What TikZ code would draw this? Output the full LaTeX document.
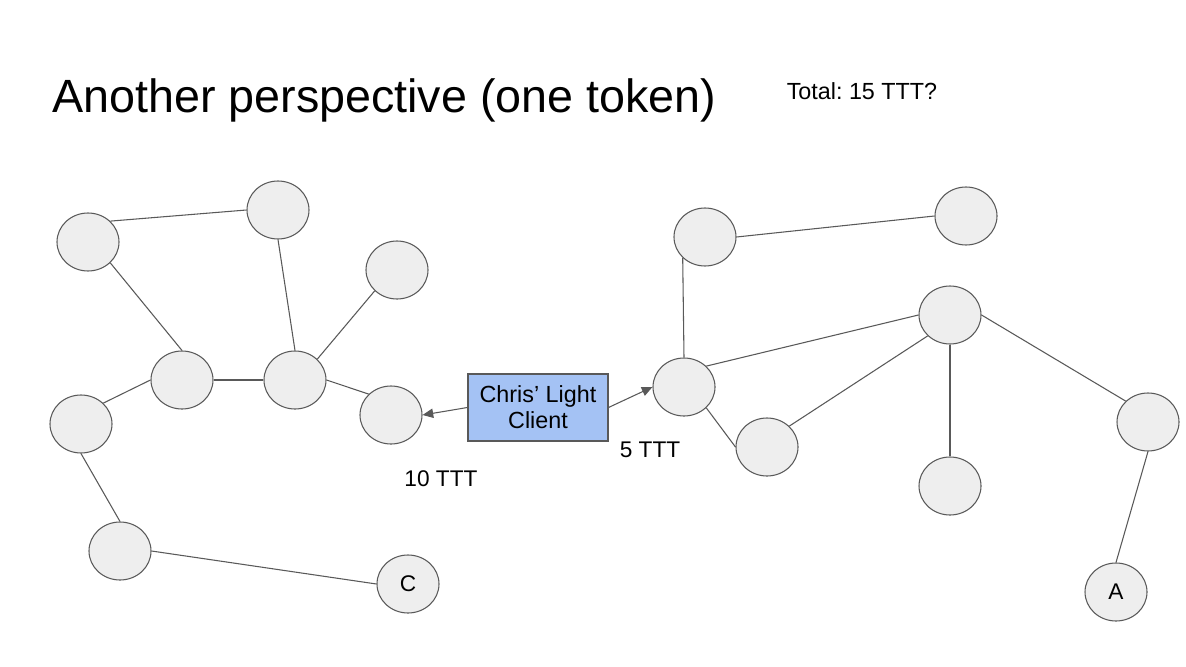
\documentclass[tikz,border=0pt]{standalone}
\usepackage{fontspec}
\setmainfont{Liberation Sans}
\usepackage{xcolor}
\usepackage{tikz}
\usetikzlibrary{shapes,arrows.meta}
\definecolor{edgegray}{HTML}{595959}
\definecolor{peerfill}{HTML}{EEEEEE}
\definecolor{clientblue}{HTML}{A4C2F4}
\frenchspacing

\begin{document}
\begin{tikzpicture}[x=0.75pt,y=-0.75pt,
  peer/.style={ellipse,draw=edgegray,fill=peerfill,line width=0.8pt,minimum width=46.5pt,minimum height=43.5pt,inner sep=0pt,font=\fontsize{17}{20}\selectfont},
  link/.style={draw=edgegray,line width=0.8pt},
  pay/.style={link,-{Triangle[length=8pt,width=7pt]}},
  client/.style={rectangle,draw=edgegray,fill=clientblue,line width=0.8pt,minimum width=105pt,minimum height=50.25pt,inner sep=0pt,align=center,font=\fontsize{17.5}{19.5}\selectfont},
  amount/.style={inner sep=0pt,font=\fontsize{17}{20}\selectfont}]
\useasboundingbox (0,0) rectangle (1186,667);
\node[anchor=base west,inner sep=0pt,font=\fontsize{35}{40}\selectfont] (title) at (52,113) {Another perspective (one token)};
\node[inner sep=0pt,font=\fontsize{17.5}{20}\selectfont] (total) at (862,91) {Total: 15 TTT?};
% left group
\node[peer] (l1) at (88,242) {};
\node[peer] (l2) at (278,210) {};
\node[peer] (l3) at (397,270) {};
\node[peer] (l4) at (182,380) {};
\node[peer] (l5) at (295,380) {};
\node[peer] (l6) at (391,415) {};
\node[peer] (l7) at (81,424) {};
\node[peer] (l8) at (120,551) {};
\node[peer] (c) at (408,584) {C};
% right group
\node[peer] (r1) at (705,237) {};
\node[peer] (r2) at (966,216) {};
\node[peer] (r3) at (950,315) {};
\node[peer] (r4) at (684,387) {};
\node[peer] (r5) at (767,447) {};
\node[peer] (r6) at (950,486) {};
\node[peer] (r7) at (1148,422) {};
\node[peer] (a) at (1116,592) {A};
% the client in between
\node[client] (chris) at (538,407.5) {Chris' Light\\Client};
\node[amount] (ten) at (441,479) {10 TTT};
\node[amount] (five) at (650,449.5) {5 TTT};
\draw[link] (l1.north east) to (l2.west);
\draw[link] (l1.south east) to (l4.north);
\draw[link] (l2.south) to (l5.north);
\draw[link] (l3.south west) to (l5.north east);
\draw[link] (l4.east) to (l5.west);
\draw[link] (l7.north east) to (l4.west);
\draw[link] (l5.east) to (l6.north west);
\draw[link] (l7.south) to (l8.north);
\draw[link] (l8.east) to (c.west);
\draw[link] (r1.east) to (r2.west);
\draw[link] (r1.south west) to (r4.north);
\draw[link] (r4.north east) to (r3.west);
\draw[link] (r4.south east) to (r5.west);
\draw[link] (r5.north east) to (r3.south west);
\draw[link] (r3.south) to (r6.north);
\draw[link] (r3.east) to (r7.north west);
\draw[link] (r7.south) to (a.north);
\draw[pay] (chris.west) to (l6.east);
\draw[pay] (chris.east) to (r4.west);
\end{tikzpicture}
\end{document}
